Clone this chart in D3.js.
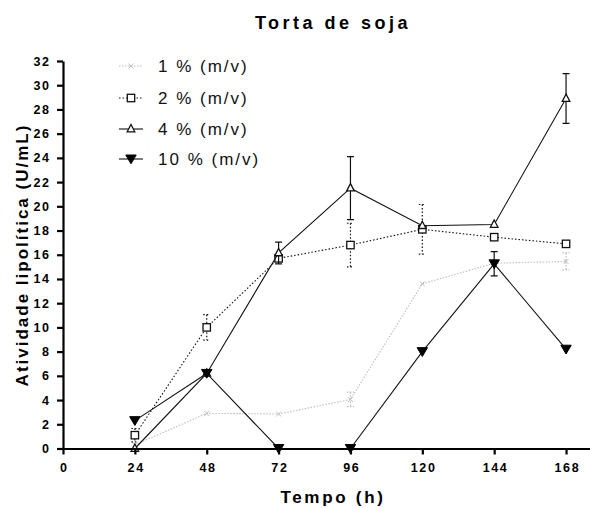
<!DOCTYPE html>
<html>
<head>
<meta charset="utf-8">
<script src="https://cdn.jsdelivr.net/npm/d3@7"></script>
<style>
  body { margin: 0; background: #fff; }
  svg { display: block; font-family: Arial, "Liberation Sans", sans-serif; }
</style>
</head>
<body>
<svg id="chart" width="590" height="508"></svg>
<script>
const times = [24, 48, 72, 96, 120, 144, 168];
const xTicks = [0, 24, 48, 72, 96, 120, 144, 168];
const yTicks = d3.range(0, 33, 2);

const s1 = [0.3, 2.9, 2.85, 4.05, 13.6, 15.3, 15.45];
const e1 = [0, 0, 0, 0.6, 0, 0, 0.7];
const s2 = [1.1, 10.0, 15.7, 16.8, 18.1, 17.45, 16.9];
const e2 = [0.55, 1.05, 0, 1.8, 2.05, 0, 0];
const s4 = [0, 6.2, 16.15, 21.5, 18.4, 18.5, 28.9];
const e4 = [0, 0, 0.9, 2.6, 0, 0, 2.05];
const s10 = [2.3, 6.2, 0, 0, 8.0, 15.25, 8.2];
const e10 = [0, 0, 0, 0, 0, 1.0, 0];

const labels = ["1 % (m/v)", "2 % (m/v)", "4 % (m/v)", "10 % (m/v)"];
const title = "Torta de soja";
const xTitle = "Tempo (h)";
const yTitle = "Atividade lipolítica (U/mL)";

const svg = d3.select("#chart");
const x = d3.scaleLinear().domain([0, 176]).range([63, 590]);
const y = d3.scaleLinear().domain([0, 32]).range([448.5, 61]);

const series = [
  { vals: s1, err: e1, color: "#bdbdbd", dash: "1.5,1.5", marker: "x", errDash: "1.5,1.5" },
  { vals: s2, err: e2, color: "#111", dash: "1.5,2", marker: "square", errDash: "1.5,2" },
  { vals: s4, err: e4, color: "#111", dash: null, marker: "tri", errDash: null },
  { vals: s10, err: e10, color: "#111", dash: null, marker: "invtri", errDash: null }
];

function drawMarker(g, type, cx, cy, color) {
  if (type === "x") {
    g.append("path").attr("d", `M${cx-2.5},${cy-2.5}L${cx+2.5},${cy+2.5}M${cx-2.5},${cy+2.5}L${cx+2.5},${cy-2.5}`)
      .attr("stroke", color).attr("stroke-width", 1).attr("fill", "none");
  } else if (type === "square") {
    g.append("rect").attr("x", cx - 3.7).attr("y", cy - 3.7).attr("width", 7.4).attr("height", 7.4)
      .attr("fill", "#fff").attr("stroke", color).attr("stroke-width", 1.3);
  } else if (type === "tri") {
    g.append("path").attr("d", `M${cx},${cy-4.5}L${cx+3.8},${cy+2.8}L${cx-3.8},${cy+2.8}Z`)
      .attr("fill", "#fff").attr("stroke", color).attr("stroke-width", 1.3);
  } else if (type === "invtri") {
    g.append("path").attr("d", `M${cx-5.2},${cy-4}L${cx+5.2},${cy-4}L${cx},${cy+4.8}Z`)
      .attr("fill", "#000").attr("stroke", "#000").attr("stroke-width", 1);
  }
}

// Plot
const plot = svg.append("g");
series.forEach(s => {
  const g = plot.append("g");
  // error bars
  times.forEach((t, i) => {
    if (!s.err[i]) return;
    const cx = x(t), y1 = y(s.vals[i] + s.err[i]), y2 = y(Math.max(0, s.vals[i] - s.err[i]));
    const eb = g.append("path")
      .attr("d", `M${cx},${y1}L${cx},${y2}M${cx-3.5},${y1}L${cx+3.5},${y1}M${cx-3.5},${y2}L${cx+3.5},${y2}`)
      .attr("stroke", s.color).attr("stroke-width", 1.2).attr("fill", "none");
    if (s.errDash) eb.attr("stroke-dasharray", s.errDash);
  });
  const line = d3.line().x((d, i) => x(times[i])).y(d => y(d));
  const p = g.append("path").datum(s.vals).attr("d", line)
    .attr("fill", "none").attr("stroke", s.color).attr("stroke-width", 1.1);
  if (s.dash) p.attr("stroke-dasharray", s.dash);
  times.forEach((t, i) => drawMarker(g, s.marker, x(t), y(s.vals[i]), s.color));
});

// Axes
const xAxis = d3.axisBottom(x).tickValues(xTicks).tickSize(6).tickSizeOuter(0).tickPadding(9);
const gx = svg.append("g").attr("transform", `translate(0,${y(0)})`).call(xAxis);
gx.select(".domain").attr("stroke-width", 2.2);
gx.selectAll(".tick line").attr("stroke-width", 2.2);
gx.selectAll(".tick text").attr("font-size", 12.5).attr("font-weight", "bold")
  .attr("font-family", "Arial, 'Liberation Sans', sans-serif").attr("fill", "#000")
  .attr("letter-spacing", "1.6px").attr("dx", "0.8px");

const yAxis = d3.axisLeft(y).tickValues(yTicks).tickSize(6).tickSizeOuter(0).tickPadding(8);
const gy = svg.append("g").attr("transform", `translate(${x(0)},0)`).call(yAxis);
gy.select(".domain").attr("stroke-width", 2.2);
gy.selectAll(".tick line").attr("stroke-width", 2.2);
gy.selectAll(".tick text").attr("font-size", 12.5).attr("font-weight", "bold")
  .attr("font-family", "Arial, 'Liberation Sans', sans-serif").attr("fill", "#000")
  .attr("letter-spacing", "1.6px").attr("dx", "1.6px");

// Titles
svg.append("text").attr("x", 333).attr("y", 29).attr("text-anchor", "middle")
  .attr("font-size", 18).attr("font-weight", "bold").attr("letter-spacing", "3.5px").text(title);
svg.append("text").attr("x", 333).attr("y", 503).attr("text-anchor", "middle")
  .attr("font-size", 17).attr("font-weight", "bold").attr("letter-spacing", "2.7px").text(xTitle);
svg.append("text").attr("transform", "translate(28,255) rotate(-90)").attr("text-anchor", "middle")
  .attr("font-size", 17).attr("font-weight", "bold").attr("letter-spacing", "2px").text(yTitle);

// Legend
const legY = [66, 98, 129, 159];
series.forEach((s, i) => {
  const g = svg.append("g");
  const ly = legY[i];
  const l = g.append("line").attr("x1", 119).attr("x2", 143).attr("y1", ly).attr("y2", ly)
    .attr("stroke", s.color).attr("stroke-width", 1.1);
  if (s.dash) l.attr("stroke-dasharray", s.dash);
  drawMarker(g, s.marker, 131, ly, s.color);
  g.append("text").attr("x", 158).attr("y", ly + 6).attr("font-size", 17)
    .attr("letter-spacing", "2px").attr("fill", "#111").text(labels[i]);
});
</script>
</body>
</html>
